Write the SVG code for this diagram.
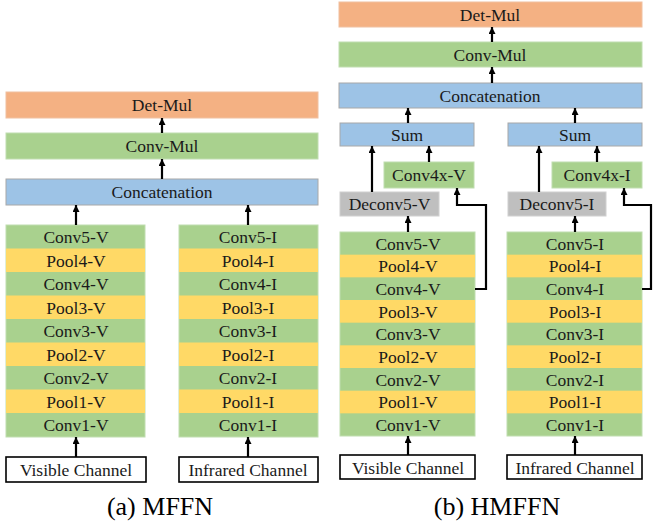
<svg xmlns="http://www.w3.org/2000/svg" width="653" height="521" viewBox="0 0 653 521">
<defs>
<marker id="ah" markerUnits="userSpaceOnUse" markerWidth="8" markerHeight="8" refX="7" refY="3.5" orient="auto">
<path d="M0,0 L7,3.5 L0,7 z" fill="#000"/>
</marker>
<style>
text{font-family:"Liberation Serif","Times New Roman",serif;font-size:17.5px;fill:#1a1a1a;text-anchor:middle}
.cap{font-size:26px;fill:#000}
.or{fill:#F4B183;stroke:#F0C0A0;stroke-width:1}
.gr{fill:#A9D18E;stroke:#C0DDB0;stroke-width:1}
.bl{fill:#9DC3E6;stroke:#A8A8A8;stroke-width:1}
.ye{fill:#FFD966;stroke:none}
.gy{fill:#BFBFBF;stroke:#D0D0D0;stroke-width:1}
.ch{fill:#fff;stroke:#000;stroke-width:1.6}
.cn line,.cn path{stroke:#000;stroke-width:2.2;fill:none;marker-end:url(#ah)}
</style>
</defs>
<rect width="653" height="521" fill="#fff"/>

<!-- Panel (a) -->
<g id="a-detmul"><rect class="or" x="6" y="92" width="312" height="26"/><text x="162" y="111">Det-Mul</text></g>
<g id="a-convmul"><rect class="gr" x="6" y="133" width="312" height="26"/><text x="162" y="152">Conv-Mul</text></g>
<g id="a-concat"><rect class="bl" x="6" y="179" width="312" height="26"/><text x="162" y="198">Concatenation</text></g>

<g id="a-colV">
<rect class="gr" x="6" y="225" width="139" height="212"/>
<rect class="ye" x="6" y="248.5" width="139" height="23.5"/>
<rect class="ye" x="6" y="295.5" width="139" height="23.5"/>
<rect class="ye" x="6" y="342.5" width="139" height="23.5"/>
<rect class="ye" x="6" y="389.5" width="139" height="23.5"/>
<text x="76" y="243">Conv5-V</text>
<text x="76" y="266.5">Pool4-V</text>
<text x="76" y="290">Conv4-V</text>
<text x="76" y="313.5">Pool3-V</text>
<text x="76" y="337">Conv3-V</text>
<text x="76" y="360.5">Pool2-V</text>
<text x="76" y="384">Conv2-V</text>
<text x="76" y="407.5">Pool1-V</text>
<text x="76" y="431">Conv1-V</text>
</g>
<g id="a-colI">
<rect class="gr" x="179" y="225" width="139" height="212"/>
<rect class="ye" x="179" y="248.5" width="139" height="23.5"/>
<rect class="ye" x="179" y="295.5" width="139" height="23.5"/>
<rect class="ye" x="179" y="342.5" width="139" height="23.5"/>
<rect class="ye" x="179" y="389.5" width="139" height="23.5"/>
<text x="248" y="243">Conv5-I</text>
<text x="248" y="266.5">Pool4-I</text>
<text x="248" y="290">Conv4-I</text>
<text x="248" y="313.5">Pool3-I</text>
<text x="248" y="337">Conv3-I</text>
<text x="248" y="360.5">Pool2-I</text>
<text x="248" y="384">Conv2-I</text>
<text x="248" y="407.5">Pool1-I</text>
<text x="248" y="431">Conv1-I</text>
</g>
<g id="a-visible"><rect class="ch" x="6" y="457" width="140" height="25"/><text x="76" y="476">Visible Channel</text></g>
<g id="a-infrared"><rect class="ch" x="179" y="457" width="139" height="25"/><text x="248" y="476">Infrared Channel</text></g>

<!-- Panel (b) -->
<g id="b-detmul"><rect class="or" x="339" y="2" width="303" height="25"/><text x="490" y="20.5">Det-Mul</text></g>
<g id="b-convmul"><rect class="gr" x="339" y="42" width="303" height="25"/><text x="490" y="60.5">Conv-Mul</text></g>
<g id="b-concat"><rect class="bl" x="339" y="83" width="303" height="25"/><text x="490" y="101.5">Concatenation</text></g>
<g id="b-sumV"><rect class="bl" x="340" y="123" width="134" height="23"/><text x="407" y="140.5">Sum</text></g>
<g id="b-sumI"><rect class="bl" x="508" y="123" width="134" height="23"/><text x="575" y="140.5">Sum</text></g>
<g id="b-conv4xV"><rect class="gr" x="384" y="162" width="90" height="26"/><text x="429" y="181">Conv4x-V</text></g>
<g id="b-conv4xI"><rect class="gr" x="552" y="162" width="90" height="26"/><text x="597" y="181">Conv4x-I</text></g>
<g id="b-deconvV"><rect class="gy" x="340" y="192" width="99" height="24"/><text x="389.5" y="210">Deconv5-V</text></g>
<g id="b-deconvI"><rect class="gy" x="508" y="192" width="98" height="24"/><text x="557" y="210">Deconv5-I</text></g>

<g id="b-colV">
<rect class="gr" x="340" y="232" width="135" height="204"/>
<rect class="ye" x="340" y="254.67" width="135" height="22.67"/>
<rect class="ye" x="340" y="300" width="135" height="22.67"/>
<rect class="ye" x="340" y="345.33" width="135" height="22.67"/>
<rect class="ye" x="340" y="390.67" width="135" height="22.67"/>
<text x="408" y="249.5">Conv5-V</text>
<text x="408" y="272.2">Pool4-V</text>
<text x="408" y="294.8">Conv4-V</text>
<text x="408" y="317.5">Pool3-V</text>
<text x="408" y="340.2">Conv3-V</text>
<text x="408" y="362.8">Pool2-V</text>
<text x="408" y="385.5">Conv2-V</text>
<text x="408" y="408.2">Pool1-V</text>
<text x="408" y="430.8">Conv1-V</text>
</g>
<g id="b-colI">
<rect class="gr" x="507" y="232" width="135" height="204"/>
<rect class="ye" x="507" y="254.67" width="135" height="22.67"/>
<rect class="ye" x="507" y="300" width="135" height="22.67"/>
<rect class="ye" x="507" y="345.33" width="135" height="22.67"/>
<rect class="ye" x="507" y="390.67" width="135" height="22.67"/>
<text x="575" y="249.5">Conv5-I</text>
<text x="575" y="272.2">Pool4-I</text>
<text x="575" y="294.8">Conv4-I</text>
<text x="575" y="317.5">Pool3-I</text>
<text x="575" y="340.2">Conv3-I</text>
<text x="575" y="362.8">Pool2-I</text>
<text x="575" y="385.5">Conv2-I</text>
<text x="575" y="408.2">Pool1-I</text>
<text x="575" y="430.8">Conv1-I</text>
</g>
<g id="b-visible"><rect class="ch" x="340" y="455" width="135" height="24"/><text x="408" y="473.5">Visible Channel</text></g>
<g id="b-infrared"><rect class="ch" x="507" y="455" width="135" height="24"/><text x="575" y="473.5">Infrared Channel</text></g>

<!-- Connectors -->
<g id="connectors" class="cn">
<line x1="162" y1="133" x2="162" y2="118"/>
<line x1="162" y1="179" x2="162" y2="159"/>
<line x1="76" y1="225" x2="76" y2="205"/>
<line x1="248" y1="225" x2="248" y2="205"/>
<line x1="76" y1="457" x2="76" y2="437"/>
<line x1="248" y1="457" x2="248" y2="437"/>

<line x1="492" y1="42" x2="492" y2="27"/>
<line x1="492" y1="83" x2="492" y2="67"/>
<line x1="408" y1="123" x2="408" y2="108"/>
<line x1="575" y1="123" x2="575" y2="108"/>
<line x1="372" y1="192" x2="372" y2="146"/>
<line x1="539" y1="192" x2="539" y2="146"/>
<line x1="429" y1="162" x2="429" y2="146"/>
<line x1="597" y1="162" x2="597" y2="146"/>
<line x1="408" y1="232" x2="408" y2="216"/>
<line x1="575" y1="232" x2="575" y2="216"/>
<line x1="408" y1="455" x2="408" y2="436"/>
<line x1="575" y1="455" x2="575" y2="436"/>
<path d="M475,289 H486 V205 H457 V188"/>
<path d="M642,289 H651 V205 H624 V188"/>
</g>

<text class="cap" x="160" y="515">(a) MFFN</text>
<text class="cap" x="497" y="515">(b) HMFFN</text>
</svg>
